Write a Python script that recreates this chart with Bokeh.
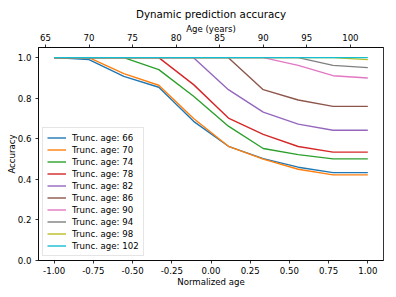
from bokeh.plotting import figure
from bokeh.models import LinearAxis, Range1d, FixedTicker, NumeralTickFormatter, Legend, LegendItem, Title
from bokeh.embed import file_html
from bokeh.resources import INLINE

norm_age = [-1.0, -0.778, -0.556, -0.333, -0.111, 0.111, 0.333, 0.556, 0.778, 1.0]
trunc_ages = [66, 70, 74, 78, 82, 86, 90, 94, 98, 102]
acc_66 = [1.0, 0.99, 0.908, 0.854, 0.686, 0.563, 0.502, 0.460, 0.433, 0.433]
acc_70 = [1.0, 1.0, 0.921, 0.864, 0.700, 0.563, 0.500, 0.450, 0.422, 0.422]
acc_74 = [1.0, 1.0, 1.0, 0.941, 0.810, 0.662, 0.552, 0.522, 0.501, 0.501]
acc_78 = [1.0, 1.0, 1.0, 1.0, 0.867, 0.702, 0.622, 0.562, 0.534, 0.534]
acc_82 = [1.0, 1.0, 1.0, 1.0, 1.0, 0.842, 0.731, 0.672, 0.642, 0.642]
acc_86 = [1.0, 1.0, 1.0, 1.0, 1.0, 1.0, 0.842, 0.791, 0.760, 0.760]
acc_90 = [1.0, 1.0, 1.0, 1.0, 1.0, 1.0, 1.0, 0.962, 0.911, 0.900]
acc_94 = [1.0, 1.0, 1.0, 1.0, 1.0, 1.0, 1.0, 1.0, 0.962, 0.951]
acc_98 = [1.0, 1.0, 1.0, 1.0, 1.0, 1.0, 1.0, 1.0, 1.0, 0.990]
acc_102 = [1.0, 1.0, 1.0, 1.0, 1.0, 1.0, 1.0, 1.0, 1.0, 1.0]
series = [acc_66, acc_70, acc_74, acc_78, acc_82, acc_86, acc_90, acc_94, acc_98, acc_102]
colors = ["#1f77b4", "#ff7f0e", "#2ca02c", "#d62728", "#9467bd",
          "#8c564b", "#e377c2", "#7f7f7f", "#bcbd22", "#17becf"]
x_ticks = [-1.0, -0.75, -0.5, -0.25, 0.0, 0.25, 0.5, 0.75, 1.0]
y_ticks = [0.0, 0.2, 0.4, 0.6, 0.8, 1.0]
age_ticks = [65, 70, 75, 80, 85, 90, 95, 100]

FONT = "DejaVu Sans"
FS = "8.6px"

p = figure(frame_width=345, frame_height=213, output_backend="svg", toolbar_location=None,
           x_range=Range1d(-1.1, 1.1), y_range=Range1d(0.0, 1.05),
           min_border_left=33, min_border_right=2, min_border_top=40, min_border_bottom=28)
p.title.text = ""
p.grid.visible = False
p.outline_line_color = "black"
p.outline_line_width = 0.8
p.background_fill_color = "white"
p.border_fill_color = "white"

p.extra_x_ranges = {"age": Range1d(64.2, 103.8)}
top = LinearAxis(x_range_name="age", axis_label="Age (years)")
p.add_layout(top, "above")

main_title = Title(text="Dynamic prediction accuracy", text_font=FONT, text_font_size="10.3px",
                   text_font_style="normal", text_color="black", align="center",
                   standoff=1, offset=0)
p.add_layout(main_title, "above")
p.add_layout(Title(text=" ", text_font_size="2.8px", standoff=0), "above")

items = []
for age, ys, c in zip(trunc_ages, series, colors):
    r = p.line(norm_age, ys, line_color=c, line_width=1.4)
    items.append(LegendItem(label="Trunc. age: %d" % age, renderers=[r]))

leg = Legend(items=items, location="bottom_left")
leg.margin = 4
leg.padding = 4
leg.spacing = 1
leg.label_height = 11
leg.glyph_height = 11
leg.glyph_width = 19
leg.label_standoff = 6
leg.label_text_font = FONT
leg.label_text_font_size = FS
leg.label_text_color = "black"
leg.border_line_color = "#cccccc"
leg.border_line_width = 0.8
leg.background_fill_alpha = 0.8
p.add_layout(leg, "center")

bottom = p.below[0]
left = p.left[0]
bottom.ticker = FixedTicker(ticks=x_ticks)
bottom.formatter = NumeralTickFormatter(format="0.00")
bottom.axis_label = "Normalized age"
left.ticker = FixedTicker(ticks=y_ticks)
left.formatter = NumeralTickFormatter(format="0.0")
left.axis_label = "Accuracy"
top.ticker = FixedTicker(ticks=age_ticks)

for ax in [bottom, left, top]:
    ax.axis_line_color = "black"
    ax.axis_line_width = 0.8
    ax.major_tick_line_color = "black"
    ax.major_tick_line_width = 0.8
    ax.major_tick_out = 3
    ax.major_tick_in = 0
    ax.minor_tick_out = 0
    ax.minor_tick_in = 0
    ax.major_label_text_font = FONT
    ax.major_label_text_font_size = FS
    ax.major_label_text_color = "black"
    ax.axis_label_text_font = FONT
    ax.axis_label_text_font_size = FS
    ax.axis_label_text_font_style = "normal"
    ax.axis_label_text_color = "black"

top.major_label_standoff = 4
top.axis_label_standoff = -3
left.major_label_standoff = 4
left.axis_label_standoff = -2
bottom.major_label_standoff = 3
bottom.axis_label_standoff = 0
p.add_layout(Title(text=" ", text_font_size="1px", standoff=0), "left")

open("out.html", "w").write(file_html(p, INLINE))
